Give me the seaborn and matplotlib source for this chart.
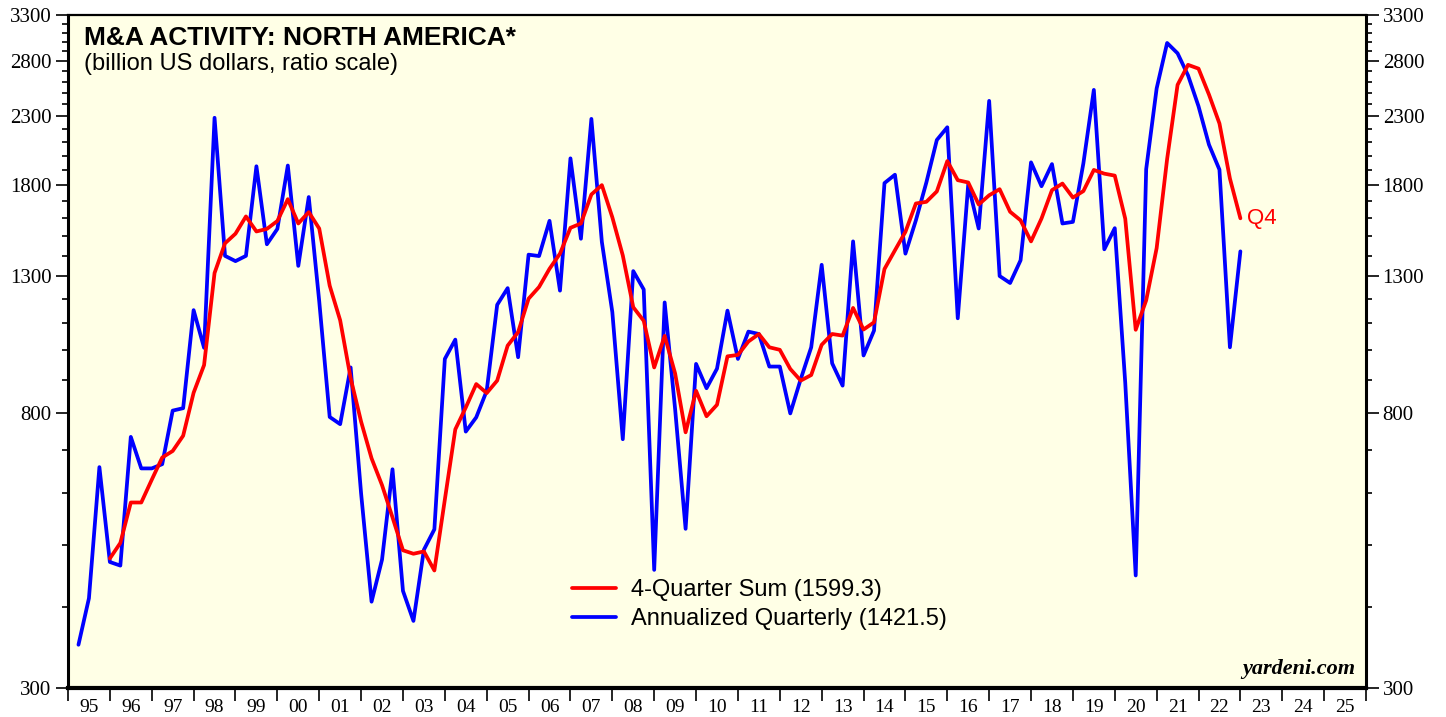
import numpy as np
import pandas as pd
import seaborn as sns
import matplotlib.pyplot as plt
from matplotlib.ticker import FixedLocator, FixedFormatter, NullFormatter

# quarterly M&A values (billion US$), 1995Q1 - 2022Q4
quarters = pd.period_range("1995Q1", "2022Q4", freq="Q")

annualized = [
    350, 413, 659, 470,      # 95
    464, 734, 656, 656,      # 96
    666, 806, 813, 1153,     # 97
    1008, 2288, 1399, 1373,  # 98
    1399, 1925, 1458, 1540,  # 99
    1930, 1350, 1725, 1190,  # 00
    788, 768, 940, 600,      # 01
    408, 474, 654, 424,      # 02
    381, 491, 528, 969,      # 03
    1038, 748, 787, 865,     # 04
    1175, 1247, 975, 1405,   # 05
    1398, 1585, 1236, 1980,  # 06
    1487, 2279, 1470, 1145,  # 07
    728, 1325, 1241, 457,    # 08
    1185, 810, 529, 952,     # 09
    873, 936, 1151, 969,     # 10
    1068, 1059, 943, 943,    # 11
    798, 902, 1010, 1355,    # 12
    954, 881, 1473, 981,     # 13
    1072, 1813, 1868, 1410,  # 14
    1588, 1817, 2114, 2212,  # 15
    1120, 1804, 1542, 2430,  # 16
    1302, 1270, 1377, 1952,  # 17
    1793, 1940, 1570, 1579,  # 18
    1945, 2527, 1432, 1544,  # 19
    890, 448, 1905, 2540,    # 20
    2987, 2879, 2661, 2384,  # 21
    2079, 1902, 1010, 1421.5 # 22
]

# 4-quarter sum starts with 1995Q4
four_qtr = [
    476,                     # 95
    503, 581, 581, 630,      # 96
    682, 698, 737, 859,      # 97
    948, 1316, 1463, 1514,   # 98
    1610, 1526, 1540, 1584,  # 99
    1712, 1570, 1635, 1542,  # 00
    1258, 1112, 905, 775,    # 01
    680, 618, 551, 490,      # 02
    484, 488, 456, 587,      # 03
    754, 815, 886, 858,      # 04
    897, 1016, 1066, 1201,   # 05
    1252, 1336, 1410, 1546,  # 06
    1570, 1741, 1800, 1605,  # 07
    1401, 1165, 1110, 940,   # 08
    1052, 920, 746, 865,     # 09
    790, 823, 978, 983,      # 10
    1031, 1059, 1010, 1001,  # 11
    935, 897, 915, 1019,     # 12
    1059, 1053, 1162, 1076,  # 13
    1104, 1335, 1427, 1524,  # 14
    1686, 1696, 1760, 1961,  # 15
    1832, 1817, 1680, 1736,  # 16
    1774, 1637, 1588, 1473,  # 17
    1598, 1768, 1810, 1722,  # 18
    1762, 1900, 1875, 1862,  # 19
    1597, 1075, 1194, 1438,  # 20
    1975, 2573, 2763, 2726,  # 21
    2485, 2242, 1843, 1599.3 # 22
]

y_ticks = [300, 800, 1300, 1800, 2300, 2800, 3300]
year_labels = [f"{y % 100:02d}" for y in range(1995, 2026)]

RED = "#ff0000"
BLUE = "#0000ff"
BG = "#ffffe6"

lbl_sum = f"4-Quarter Sum ({four_qtr[-1]:.1f})"
lbl_ann = f"Annualized Quarterly ({annualized[-1]:.1f})"

# quarter-end position in decimal years
t = np.asarray(quarters.year + quarters.quarter / 4.0, dtype=float)

df = pd.concat([
    pd.DataFrame({"t": t, "value": annualized, "series": lbl_ann}),
    pd.DataFrame({"t": t[3:], "value": four_qtr, "series": lbl_sum}),
])

sns.set_style("ticks")
plt.rcParams["font.family"] = ["Liberation Sans", "DejaVu Sans"]
plt.rcParams.update({"text.color": "black", "axes.edgecolor": "black",
                     "xtick.color": "black", "ytick.color": "black",
                     "axes.labelcolor": "black"})

fig = plt.figure(figsize=(14.46, 7.17), dpi=100)
ax = fig.add_axes([68 / 1446, 29 / 717, 1298 / 1446, 673 / 717])
ax.set_facecolor(BG)

sns.lineplot(data=df, x="t", y="value", hue="series",
             hue_order=[lbl_ann, lbl_sum],
             palette={lbl_ann: BLUE, lbl_sum: RED},
             linewidth=2.7, ax=ax)

ax.set_yscale("log")
ax.set_ylim(300, 3300)
ax.set_xlim(1995, 2026)
ax.set_xlabel("")
ax.set_ylabel("")

# y axis: labelled both sides, minor ticks every 100
ax.yaxis.set_major_locator(FixedLocator(y_ticks))
ax.yaxis.set_major_formatter(FixedFormatter([str(v) for v in y_ticks]))
ax.yaxis.set_minor_locator(FixedLocator(list(range(300, 3301, 100))))
ax.yaxis.set_minor_formatter(NullFormatter())
ax.tick_params(axis="y", which="major", direction="out", length=9, width=1.2,
               left=True, right=True, labelleft=True, labelright=True,
               labelsize=15, pad=3)
ax.tick_params(axis="y", which="minor", direction="out", length=4.5, width=1.2,
               left=True, right=True)

# x axis: ticks at year boundaries, labels between them
ax.xaxis.set_major_locator(FixedLocator(list(range(1995, 2027))))
ax.xaxis.set_major_formatter(NullFormatter())
ax.xaxis.set_minor_locator(FixedLocator([y + 0.5 for y in range(1995, 2026)]))
ax.xaxis.set_minor_formatter(FixedFormatter(year_labels))
ax.tick_params(axis="x", which="major", direction="out", length=9, width=1.2)
ax.tick_params(axis="x", which="minor", length=0, labelsize=14, pad=8)

for lab in ax.get_yticklabels() + ax.get_xticklabels(minor=True):
    lab.set_family("Liberation Serif")

ax.spines["top"].set_linewidth(1.6)
ax.spines["bottom"].set_linewidth(3.0)
ax.spines["left"].set_linewidth(2.2)
ax.spines["right"].set_linewidth(2.2)

# legend: red first
handles, labels = ax.get_legend_handles_labels()
order = [labels.index(lbl_sum), labels.index(lbl_ann)]
ax.legend([handles[i] for i in order], [labels[i] for i in order],
          loc="upper left", bbox_to_anchor=(0.388, 0.162), frameon=False,
          fontsize=17, handlelength=1.9, handletextpad=0.6,
          labelspacing=0.3, borderpad=0, borderaxespad=0)

ax.text(0.0123, 0.983, "M&A ACTIVITY: NORTH AMERICA*", transform=ax.transAxes,
        fontsize=19, fontweight="bold", va="top", ha="left")
ax.text(0.0123, 0.943, "(billion US dollars, ratio scale)", transform=ax.transAxes,
        fontsize=17, va="top", ha="left")
ax.text(0.992, 0.013, "yardeni.com", transform=ax.transAxes, fontsize=16,
        fontweight="bold", style="italic", family="Liberation Serif",
        ha="right", va="bottom")
ax.annotate("Q4", xy=(t[-1], four_qtr[-1]), xytext=(5, 0),
            textcoords="offset points", color=RED, fontsize=16,
            va="center", ha="left")

fig.savefig("out.png", dpi=100)
